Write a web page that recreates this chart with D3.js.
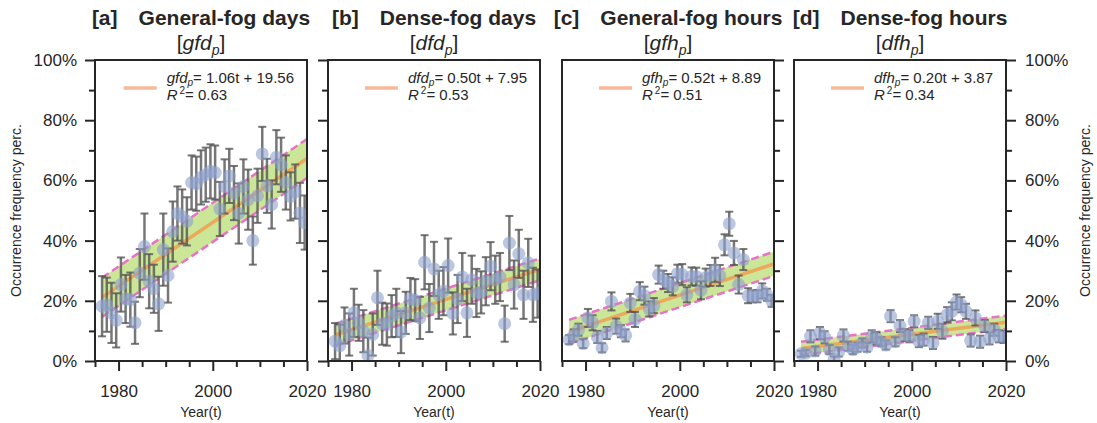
<!DOCTYPE html>
<html>
<head>
<meta charset="utf-8">
<script src="https://cdn.jsdelivr.net/npm/d3@7"></script>
<style>
  body { margin: 0; background: #fff; }
  text { font-family: "Liberation Sans", Arial, sans-serif; fill: #262626; }
</style>
</head>
<body>
<svg id="chart" width="1097" height="423"></svg>
<script>
// ---- data ----
var years = d3.range(1976, 2020);

var gfd    = [18.2, 18.7, 16, 13.5, 25.4, 20.6, 20.4, 12.7, 29.2, 38, 26.5, 24, 19, 37, 28.4, 43, 49, 48, 46.4, 59.3, 58.9, 61,
              61.9, 63, 62.6, 50.5, 58, 61.5, 55.8, 49, 58, 53.6, 40, 54.9, 68.8, 58.2, 52, 67.7, 65.2, 59.3, 54.7, 56.3, 49.2, 46];
var gfdErr = [10, 9, 10, 9, 9, 8, 9, 7, 8, 11, 9, 8, 9, 12, 9, 10, 9, 9, 8, 9, 9, 9,
              9, 9, 9, 9, 9, 9, 9, 10, 9, 10, 8, 9, 9, 9, 8, 9, 9, 9, 8, 9, 10, 9];

var dfd    = [6.6, 5.1, 11.8, 8.8, 16, 12.7, 9.9, 1.8, 8.8, 21, 12.4, 12.1, 14.9, 16, 9.6, 16, 20.6, 20.2, 14.3, 32.8, 17.6, 30.6,
              22, 23.2, 31.7, 15.8, 20.6, 27.9, 16, 27, 22.6, 22.8, 26.5, 31.5, 27, 27.9, 12.4, 39.2, 25.4, 35.6, 22, 32.6, 22, 22.4];
var dfdErr = [6, 7, 6, 7, 8, 6, 7, 6, 7, 9, 7, 7, 7, 8, 7, 7, 7, 7, 7, 9, 8, 9,
              8, 8, 9, 7, 8, 8, 8, 8, 8, 7, 8, 8, 8, 8, 6, 9, 8, 8, 8, 8, 9, 8];

var gfh    = [7.1, 8.5, 10.4, 5.8, 14.3, 12.7, 8, 4.4, 9.3, 19.8, 11.6, 9.9, 8.5, 19.3, 13.8, 23.2, 21.7, 17.3, 18.4, 28.7, 27, 25.9,
              24.8, 29, 28.7, 22, 28.1, 28, 23.5, 27.7, 28.4, 30.3, 28.4, 38.6, 45.6, 35.9, 25.4, 33.7, 21.7, 21.5, 21.5, 23.3, 22, 20];
var gfhErr = [1.5, 2, 2, 1.5, 3, 2.5, 2, 1.5, 2, 3, 2.5, 2, 2, 3, 2.5, 3, 3, 2.5, 2.5, 3, 3, 3,
              3, 3, 3.5, 2.5, 3, 3, 3, 3, 3.5, 4, 3.5, 3.5, 4, 4, 3, 3.5, 2.5, 2, 2, 2.5, 2, 2];

var dfh    = [2.4, 2.6, 8.2, 3.3, 9.3, 7.9, 3.8, 0.5, 3, 8.5, 4.9, 3.8, 4.6, 6, 4.6, 8.2, 7.5, 6.4, 5.3, 14.9, 6.4, 11.6,
              8.6, 8.2, 13.2, 6.6, 7.1, 12.7, 6, 13.2, 9.9, 15.4, 16.5, 19.6, 18.7, 16.5, 6.8, 14.3, 6.4, 11.6, 7.5, 10.4, 8.2, 8];
var dfhErr = [1, 1, 2, 1.5, 2, 2, 1.5, 1, 1.5, 2, 1.5, 1.5, 1.5, 1.5, 1.5, 2, 2, 1.5, 1.5, 2, 1.5, 2,
              2, 2, 2, 2, 2, 2, 2, 2.5, 2.5, 2.5, 3, 2.5, 2.5, 2.5, 2, 2.5, 2, 2, 2, 2, 2, 2];

var letters    = ["a", "b", "c", "d"];
var titles     = ["General-fog days", "Dense-fog days", "General-fog hours", "Dense-fog hours"];
var symbols    = ["gfd", "dfd", "gfh", "dfh"];
var slopes     = [1.06, 0.50, 0.52, 0.20];
var intercepts = [19.56, 7.95, 8.89, 3.87];
var rSquared   = [0.63, 0.53, 0.51, 0.34];
var bandHalf   = [6.5, 3.6, 4.0, 2.2];

var yMajor = [0, 20, 40, 60, 80, 100];
var yMinor = [10, 30, 50, 70, 90];
var xMajor = [1980, 2000, 2020];
var xMinor = [1975, 1985, 1990, 1995, 2005, 2010, 2015];

var values = [gfd, dfd, gfh, dfh];
var errors = [gfdErr, dfdErr, gfhErr, dfhErr];

// ---- layout ----
var panelLeft  = [95, 328, 562, 794];
var panelW     = 212;
var plotTop    = 60;
var plotBottom = 361;
var t0         = 1975;   // t = year - 1975 in the fitted equations

var svg = d3.select("#chart");
svg.append("rect").attr("width", 1097).attr("height", 423).attr("fill", "#fff");

var y = d3.scaleLinear().domain([0, 100]).range([plotBottom, plotTop]);
var pct = function (d) { return d + "%"; };

function styleAxis(g) {
  g.select(".domain").remove();
  g.selectAll(".tick line").attr("stroke", "#262626").attr("stroke-width", 2);
  g.selectAll(".tick text").style("font-size", "17px").attr("fill", "#262626");
}

letters.forEach(function (letter, i) {
  var left = panelLeft[i];
  var x = d3.scaleLinear().domain([1975, 2020]).range([left, left + panelW]);
  var vals = values[i], errs = errors[i];
  var xMid = function (yr) { return x(yr + 0.5); };   // yearly values sit mid-year

  var clipId = "clip" + letter;
  svg.append("clipPath").attr("id", clipId)
    .append("rect").attr("x", left).attr("y", plotTop).attr("width", panelW).attr("height", plotBottom - plotTop);

  var plot = svg.append("g").attr("clip-path", "url(#" + clipId + ")");

  // fit and band
  var fit = function (yr) { return slopes[i] * (yr - t0) + intercepts[i]; };
  var xs = [years[0] + 0.5, 2020];

  plot.append("path")
    .attr("d", d3.area().x(function (d) { return x(d); })
      .y0(function (d) { return y(fit(d) - bandHalf[i]); })
      .y1(function (d) { return y(fit(d) + bandHalf[i]); })(xs))
    .attr("fill", "#9acd32").attr("fill-opacity", 0.5);

  plot.append("path")
    .attr("d", d3.line().x(function (d) { return x(d); }).y(function (d) { return y(fit(d)); })(xs))
    .attr("stroke", "#f39a4e").attr("stroke-opacity", 0.8).attr("stroke-width", 3.5).attr("fill", "none");

  [-1, 1].forEach(function (s) {
    plot.append("path")
      .attr("d", d3.line().x(function (d) { return x(d); }).y(function (d) { return y(fit(d) + s * bandHalf[i]); })(xs))
      .attr("stroke", "#e872c8").attr("stroke-width", 2.5).attr("stroke-dasharray", "8,4").attr("fill", "none");
  });

  // error bars
  var bars = plot.append("g").attr("stroke", "#555").attr("stroke-opacity", 0.8).attr("stroke-width", 2.5);
  years.forEach(function (yr, k) {
    var cx = xMid(yr), lo = y(vals[k] - errs[k]), hi = y(vals[k] + errs[k]);
    bars.append("line").attr("x1", cx).attr("x2", cx).attr("y1", lo).attr("y2", hi);
    bars.append("line").attr("x1", cx - 4).attr("x2", cx + 4).attr("y1", lo).attr("y2", lo).attr("stroke-width", 2);
    bars.append("line").attr("x1", cx - 4).attr("x2", cx + 4).attr("y1", hi).attr("y2", hi).attr("stroke-width", 2);
  });

  // points
  plot.append("g").selectAll("circle").data(years).join("circle")
    .attr("cx", function (d) { return xMid(d); })
    .attr("cy", function (d, k) { return y(vals[k]); })
    .attr("r", 6.5)
    .attr("fill", "#8da0cb").attr("fill-opacity", 0.6);

  // axes
  var xAxis = d3.axisBottom(x).tickValues(xMajor).tickFormat(d3.format("d")).tickSize(10).tickPadding(14);
  svg.append("g").attr("transform", "translate(0," + plotBottom + ")").call(xAxis).call(styleAxis);
  svg.append("g").attr("transform", "translate(0," + plotBottom + ")")
    .call(d3.axisBottom(x).tickValues(xMinor).tickFormat("").tickSize(6)).call(styleAxis);

  if (i < 2) {
    svg.append("g").attr("transform", "translate(" + left + ",0)")
      .call(d3.axisLeft(y).tickValues(yMajor).tickFormat(i === 0 ? pct : "").tickSize(10).tickPadding(8)).call(styleAxis);
    svg.append("g").attr("transform", "translate(" + left + ",0)")
      .call(d3.axisLeft(y).tickValues(yMinor).tickFormat("").tickSize(6)).call(styleAxis);
  } else {
    svg.append("g").attr("transform", "translate(" + (left + panelW) + ",0)")
      .call(d3.axisRight(y).tickValues(yMajor).tickFormat(i === 3 ? pct : "").tickSize(10).tickPadding(9)).call(styleAxis);
    svg.append("g").attr("transform", "translate(" + (left + panelW) + ",0)")
      .call(d3.axisRight(y).tickValues(yMinor).tickFormat("").tickSize(6)).call(styleAxis);
  }

  // frame
  svg.append("rect").attr("x", left).attr("y", plotTop).attr("width", panelW).attr("height", plotBottom - plotTop)
    .attr("fill", "none").attr("stroke", "#262626").attr("stroke-width", 2);

  // title
  var cx = left + panelW / 2;
  var t1 = svg.append("text").attr("x", cx).attr("y", 25).attr("text-anchor", "middle")
    .style("font-size", "21px").style("font-weight", "bold");
  t1.append("tspan").text("[" + letter + "]");
  t1.append("tspan").attr("dx", 21).text(titles[i]);

  var t2 = svg.append("text").attr("x", cx).attr("y", 50).attr("text-anchor", "middle").style("font-size", "21px");
  t2.append("tspan").text("[");
  t2.append("tspan").style("font-style", "italic").text(symbols[i]);
  t2.append("tspan").style("font-style", "italic").style("font-size", "14px").attr("dy", 5).text("p");
  t2.append("tspan").attr("dy", -5).text("]");

  // legend
  var lg = svg.append("g");
  var l1 = lg.append("text").attr("y", 83).style("font-size", "15px");
  l1.append("tspan").style("font-style", "italic").text(symbols[i]);
  l1.append("tspan").style("font-style", "italic").style("font-size", "10px").attr("dy", 3).text("p");
  l1.append("tspan").attr("dy", -3).text("= " + slopes[i].toFixed(2) + "t + " + intercepts[i].toFixed(2));
  var l2 = lg.append("text").attr("y", 100).style("font-size", "15px");
  l2.append("tspan").style("font-style", "italic").text("R");
  l2.append("tspan").style("font-size", "10px").attr("dy", -6).attr("dx", 2).text("2");
  l2.append("tspan").attr("dy", 6).text("= " + rSquared[i].toFixed(2));

  var tw = Math.max(l1.node().getComputedTextLength(), l2.node().getComputedTextLength());
  var tx = left + panelW - 13 - tw;
  l1.attr("x", tx);
  l2.attr("x", tx);
  lg.append("line").attr("x1", tx - 43).attr("x2", tx - 10).attr("y1", 88).attr("y2", 88)
    .attr("stroke", "#f8b898").attr("stroke-width", 3.5);

  // x label
  svg.append("text").attr("x", cx).attr("y", 417).attr("text-anchor", "middle").style("font-size", "14px").text("Year(t)");
});

// y labels
var midY = (plotTop + plotBottom) / 2;
svg.append("text").attr("transform", "translate(21," + midY + ") rotate(-90)")
  .attr("text-anchor", "middle").style("font-size", "14px").text("Occurrence frequency perc.");
svg.append("text").attr("transform", "translate(1090," + midY + ") rotate(-90)")
  .attr("text-anchor", "middle").style("font-size", "14px").text("Occurrence frequency perc.");
</script>
</body>
</html>
